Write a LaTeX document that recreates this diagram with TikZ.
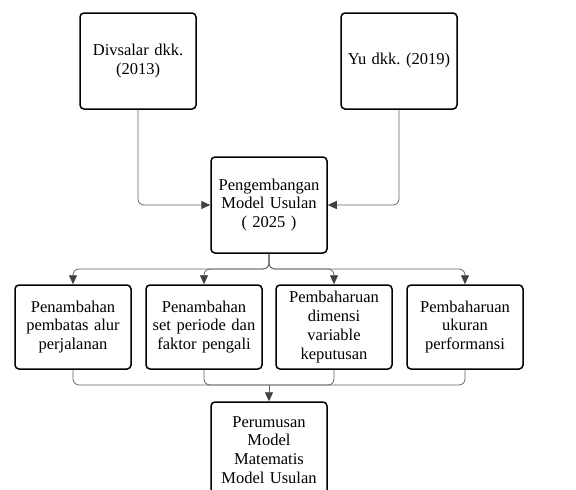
\documentclass[tikz,border=0pt]{standalone}
\usepackage{fontspec}
\setmainfont{Liberation Serif}
\usetikzlibrary{arrows.meta}
\frenchspacing

\tikzset{
    box/.style={draw=black, line width=1.5pt, rounded corners=4pt, align=center,
        minimum width=116pt, text width=114pt, inner sep=1pt,
        font=\fontsize{16.5}{18.8}\selectfont},
    link/.style={draw=black!60, line width=0.8pt, rounded corners=6pt},
    tip/.style={-{Triangle[length=9pt,width=8pt,color=black!75]}}
}

\begin{document}
\begin{tikzpicture}[x=1pt,y=-1pt]
    \clip (0,0) rectangle (576,490);

    \node[box, minimum height=96pt] (div) at (138,61) {Divsalar dkk.\\(2013)};
    \node[box, minimum height=96pt] (yu) at (399,61) {Yu dkk. (2019)};
    \node[box, minimum height=96pt] (usul) at (269,205) {Pengembangan\\Model Usulan\\( 2025 )};

    \foreach \n/\x/\t in {pa/73/{Penambahan\\pembatas alur\\perjalanan},
                          ps/204/{Penambahan\\set periode dan\\faktor pengali},
                          pd/334/{Pembaharuan\\dimensi\\variable\\keputusan},
                          pu/465/{Pembaharuan\\ukuran\\performansi}}{
            \node[box, minimum height=84pt] (\n) at (\x,327) {\t};
    }

    \node[box, minimum height=96pt] (rumus) at (269,450) {Perumusan\\Model\\Matematis\\Model Usulan};

    \coordinate (pisah) at (269,269);
    \coordinate (gabung) at (269,385);

    \draw[link, tip] (div.south) |- (usul.west);
    \draw[link, tip] (yu.south) |- (usul.east);

    \foreach \n in {pa,ps,pd,pu}{
            \draw[link, tip] (usul.south) -- (pisah) -| (\n.north);
            \draw[link] (\n.south) |- (gabung);
    }
    \draw[link, tip] (gabung) -- (rumus.north);

\end{tikzpicture}
\end{document}
